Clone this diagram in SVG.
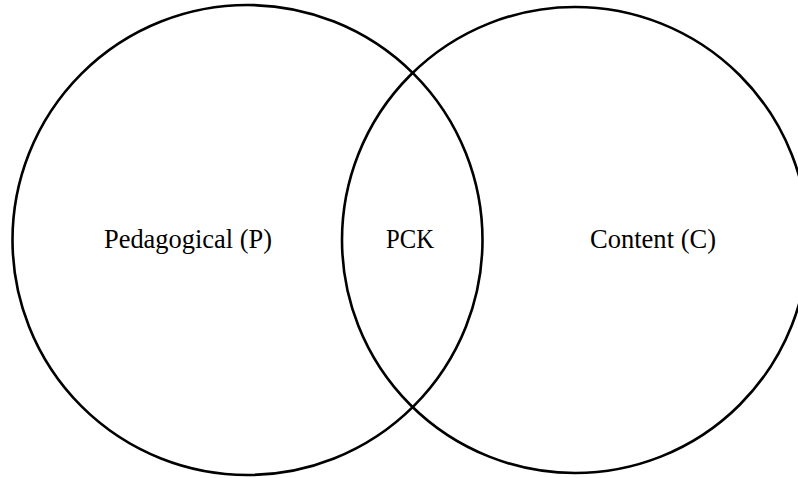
<svg xmlns="http://www.w3.org/2000/svg" width="798" height="478" viewBox="0 0 798 478">
<style>
.c{fill:none;stroke:#000;stroke-width:2.6}
.t{font-family:'Liberation Serif','DejaVu Serif',serif;font-size:26.5px;fill:#000}
</style>
<rect width="798" height="478" fill="#fff"/>
<g id="pedagogical">
<circle class="c" cx="247.5" cy="240" r="235"/>
<text class="t" x="104" y="248" textLength="168" lengthAdjust="spacingAndGlyphs">Pedagogical (P)</text>
</g>
<g id="content">
<circle class="c" cx="575" cy="240" r="233"/>
<text class="t" x="590" y="248" textLength="126" lengthAdjust="spacingAndGlyphs">Content (C)</text>
</g>
<g id="pck">
<text class="t" x="386" y="248" textLength="48" lengthAdjust="spacingAndGlyphs">PCK</text>
</g>
<g id="connectors"></g>
</svg>
